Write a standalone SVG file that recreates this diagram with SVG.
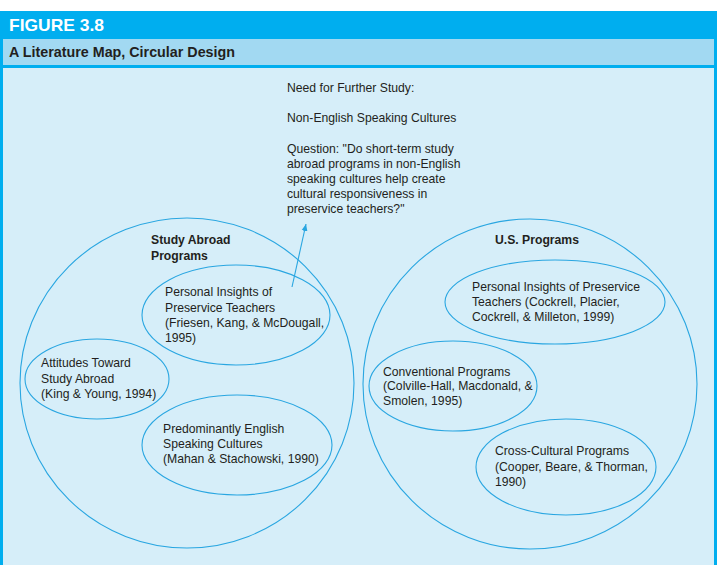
<svg xmlns="http://www.w3.org/2000/svg" width="719" height="565" viewBox="0 0 719 565">
<defs>
<style>
.t{font-family:"Liberation Sans",Arial,sans-serif;font-size:12.2px;fill:#231f20}
.b{font-weight:bold}
.e{fill:none;stroke:#29a6e1;stroke-width:1.1}
</style>
<marker id="ah" markerWidth="8" markerHeight="8" refX="7" refY="4" orient="auto" markerUnits="userSpaceOnUse">
<path d="M0,1 L7,4 L0,7 Z" fill="#29a6e1"/>
</marker>
</defs>
<rect x="0" y="0" width="719" height="565" fill="#ffffff"/>
<rect x="0" y="11" width="717" height="554" fill="#00aeef"/>
<rect x="3" y="39" width="711" height="26" fill="#a2d9f2"/>
<rect x="3" y="68" width="711" height="497" fill="#d6eef9"/>
<text x="9" y="31" font-family="'Liberation Sans',Arial,sans-serif" font-size="17" font-weight="bold" fill="#ffffff" textLength="95" lengthAdjust="spacingAndGlyphs">FIGURE 3.8</text>
<text x="9" y="57" font-family="'Liberation Sans',Arial,sans-serif" font-size="15" font-weight="bold" fill="#231f20" textLength="226" lengthAdjust="spacingAndGlyphs">A Literature Map, Circular Design</text>

<g id="question">
<text class="t" x="287" y="92">Need for Further Study:</text>
<text class="t" x="287" y="122">Non-English Speaking Cultures</text>
<text class="t" x="287" y="153">Question: "Do short-term study</text>
<text class="t" x="287" y="168">abroad programs in non-English</text>
<text class="t" x="287" y="183">speaking cultures help create</text>
<text class="t" x="287" y="198">cultural responsiveness in</text>
<text class="t" x="287" y="213">preservice teachers?"</text>
</g>

<g id="study-abroad">
<ellipse class="e" cx="187" cy="383" rx="167" ry="165"/>
<text class="t b" x="151" y="244">Study Abroad</text>
<text class="t b" x="151" y="260">Programs</text>
</g>
<g id="sa-personal">
<ellipse class="e" cx="236" cy="315" rx="94" ry="50"/>
<text class="t" x="165" y="296">Personal Insights of</text>
<text class="t" x="165" y="311.5">Preservice Teachers</text>
<text class="t" x="165" y="327">(Friesen, Kang, &amp; McDougall,</text>
<text class="t" x="165" y="342">1995)</text>
</g>
<g id="sa-attitudes">
<ellipse class="e" cx="97" cy="379" rx="72" ry="40"/>
<text class="t" x="41" y="367">Attitudes Toward</text>
<text class="t" x="41" y="383">Study Abroad</text>
<text class="t" x="41" y="398">(King &amp; Young, 1994)</text>
</g>
<g id="sa-english">
<ellipse class="e" cx="237" cy="445" rx="95" ry="50"/>
<text class="t" x="163" y="433">Predominantly English</text>
<text class="t" x="163" y="448">Speaking Cultures</text>
<text class="t" x="163" y="463">(Mahan &amp; Stachowski, 1990)</text>
</g>

<g id="us-programs">
<ellipse class="e" cx="530" cy="384" rx="167" ry="165"/>
<text class="t b" x="495" y="244">U.S. Programs</text>
</g>
<g id="us-personal">
<ellipse class="e" cx="555" cy="302" rx="110" ry="42"/>
<text class="t" x="472" y="291">Personal Insights of Preservice</text>
<text class="t" x="472" y="306">Teachers (Cockrell, Placier,</text>
<text class="t" x="472" y="321">Cockrell, &amp; Milleton, 1999)</text>
</g>
<g id="us-conventional">
<ellipse class="e" cx="453" cy="386" rx="84" ry="45"/>
<text class="t" x="383" y="376">Conventional Programs</text>
<text class="t" x="383" y="390">(Colville-Hall, Macdonald, &amp;</text>
<text class="t" x="383" y="405">Smolen, 1995)</text>
</g>
<g id="us-crosscultural">
<ellipse class="e" cx="566" cy="467" rx="90" ry="48"/>
<text class="t" x="495" y="455">Cross-Cultural Programs</text>
<text class="t" x="495" y="471">(Cooper, Beare, &amp; Thorman,</text>
<text class="t" x="495" y="486">1990)</text>
</g>

<g id="connectors">
<line x1="292" y1="287" x2="306" y2="224" stroke="#29a6e1" stroke-width="1.1" marker-end="url(#ah)"/>
</g>
</svg>
